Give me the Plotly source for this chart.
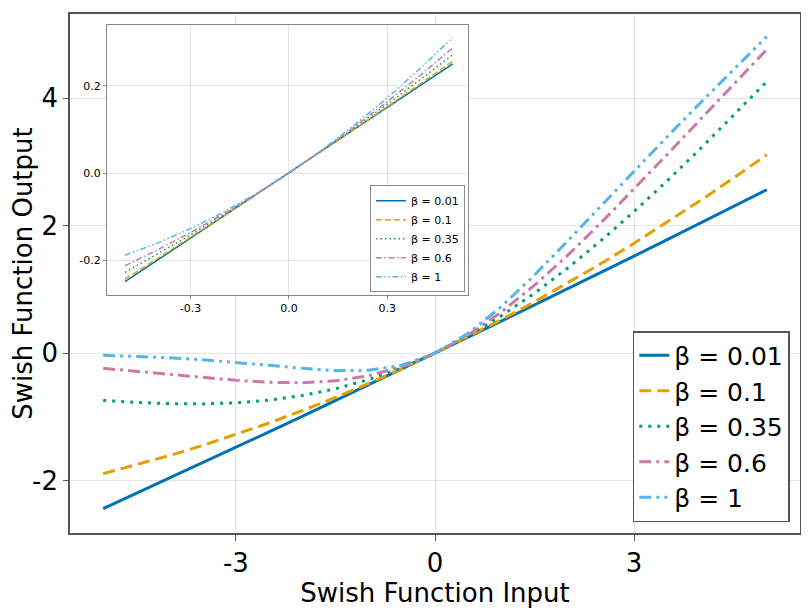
import plotly.graph_objects as go

# main panel: x from -5 to 5
x_main = [-5.0, -4.5, -4.0, -3.5, -3.0, -2.5, -2.0, -1.5, -1.0, -0.5, 0.0,
          0.5, 1.0, 1.5, 2.0, 2.5, 3.0, 3.5, 4.0, 4.5, 5.0]
betas = ["0.01", "0.1", "0.35", "0.6", "1"]
y_main = {
    "0.01": [-2.438, -2.199, -1.960, -1.719, -1.478, -1.234, -0.990, -0.744, -0.498, -0.249, 0.0,
             0.251, 0.503, 0.756, 1.010, 1.266, 1.523, 1.781, 2.040, 2.301, 2.563],
    "0.1": [-1.888, -1.752, -1.605, -1.447, -1.277, -1.095, -0.900, -0.694, -0.475, -0.244, 0.0,
            0.256, 0.525, 0.806, 1.100, 1.405, 1.723, 2.053, 2.395, 2.748, 3.112],
    "0.35": [-0.740, -0.772, -0.791, -0.795, -0.778, -0.736, -0.664, -0.558, -0.413, -0.228, 0.0,
             0.272, 0.587, 0.942, 1.336, 1.764, 2.222, 2.705, 3.209, 3.728, 4.260],
    "0.6": [-0.237, -0.283, -0.333, -0.382, -0.426, -0.456, -0.463, -0.434, -0.354, -0.213, 0.0,
            0.287, 0.646, 1.066, 1.537, 2.044, 2.574, 3.118, 3.667, 4.217, 4.763],
    "1": [-0.033, -0.049, -0.072, -0.103, -0.142, -0.190, -0.238, -0.274, -0.269, -0.189, 0.0,
          0.311, 0.731, 1.226, 1.762, 2.310, 2.858, 3.397, 3.928, 4.451, 4.967],
}

# inset: zoom on -0.5 .. 0.5
x_inset = [-0.5, -0.4, -0.3, -0.2, -0.1, 0.0, 0.1, 0.2, 0.3, 0.4, 0.5]
y_inset = {
    "0.01": [-0.2494, -0.1996, -0.1498, -0.0999, -0.0500, 0.0, 0.0500, 0.1001, 0.1502, 0.2004, 0.2506],
    "0.1": [-0.2438, -0.1960, -0.1478, -0.0990, -0.0498, 0.0, 0.0503, 0.1010, 0.1523, 0.2040, 0.2563],
    "0.35": [-0.2282, -0.1860, -0.1421, -0.0965, -0.0491, 0.0, 0.0509, 0.1035, 0.1579, 0.2140, 0.2718],
    "0.6": [-0.2128, -0.1761, -0.1365, -0.0940, -0.0485, 0.0, 0.0515, 0.1060, 0.1635, 0.2239, 0.2872],
    "1": [-0.1888, -0.1605, -0.1277, -0.0900, -0.0475, 0.0, 0.0525, 0.1100, 0.1723, 0.2395, 0.3112],
}

colors = ["#0072B2", "#E69F00", "#009E73", "#CC79A7", "#56B4E9"]
dashes = ["solid", "12px,6px", "3px,6px", "12px,5px,3px,5px", "12px,5px,3px,5px,3px,5px"]
dashes_small = ["solid", "6px,3px", "1.5px,3px", "6px,2.5px,1.5px,2.5px", "6px,2.5px,1.5px,2.5px,1.5px,2.5px"]

fig = go.Figure()
for b, c, d in zip(betas, colors, dashes):
    fig.add_trace(go.Scatter(x=x_main, y=y_main[b], mode="lines",
                             line=dict(color=c, width=3, dash=d),
                             name=f"β = {b}", xaxis="x", yaxis="y", legend="legend"))
for b, c, d in zip(betas, colors, dashes_small):
    fig.add_trace(go.Scatter(x=x_inset, y=y_inset[b], mode="lines",
                             line=dict(color=c, width=1.5, dash=d),
                             name=f"β = {b}", xaxis="x2", yaxis="y2", legend="legend2"))

grid = "rgba(0,0,0,0.1)"
# page body adds an 8px offset, so margins are shifted to compensate
fig.update_layout(
    width=809, height=612,
    margin=dict(l=62, r=17, t=6, b=87),
    paper_bgcolor="white", plot_bgcolor="white",
    font=dict(family="DejaVu Sans", color="black"),
    xaxis=dict(domain=[0, 1], range=[-5.5, 5.5], tickvals=[-3, 0, 3], ticktext=["-3", "0", "3"],
               showgrid=True, gridcolor=grid, zeroline=False, automargin=False,
               showline=True, linecolor="#555555", linewidth=1.5, mirror=True,
               ticks="outside", ticklen=6, tickcolor="#555555",
               tickfont=dict(size=26), title=dict(text="Swish Function Input", font=dict(size=26), standoff=6)),
    yaxis=dict(domain=[0, 1], range=[-2.82, 5.32], tickvals=[-2, 0, 2, 4], ticktext=["-2", "0", "2", "4"],
               showgrid=True, gridcolor=grid, zeroline=False, automargin=False,
               showline=True, linecolor="#555555", linewidth=1.5, mirror=True,
               ticks="outside", ticklen=5, tickcolor="#555555",
               tickfont=dict(size=26), title=dict(text="Swish Function Output", font=dict(size=26), standoff=9)),
    xaxis2=dict(domain=[0.0507, 0.545], anchor="y2", range=[-0.555, 0.546],
                tickvals=[-0.3, 0.0, 0.3], ticktext=["-0.3", "0.0", "0.3"],
                showgrid=True, gridcolor=grid, zeroline=False, automargin=False,
                showline=True, linecolor="#888888", linewidth=1, mirror=True,
                ticks="outside", ticklen=3, tickcolor="#888888", tickfont=dict(size=11)),
    yaxis2=dict(domain=[0.4586, 0.979], anchor="x2", range=[-0.28, 0.34],
                tickvals=[-0.2, 0.0, 0.2], ticktext=["-0.2", "0.0", "0.2"],
                showgrid=True, gridcolor=grid, zeroline=False, automargin=False,
                showline=True, linecolor="#888888", linewidth=1, mirror=True,
                ticks="outside", ticklen=3, tickcolor="#888888", tickfont=dict(size=11)),
    legend=dict(x=0.986, y=0.021, xanchor="right", yanchor="bottom",
                bgcolor="white", bordercolor="#555555", borderwidth=1.5,
                font=dict(size=25), itemwidth=30, tracegroupgap=0),
    legend2=dict(x=0.541, y=0.464, xanchor="right", yanchor="bottom",
                 bgcolor="white", bordercolor="#888888", borderwidth=1,
                 font=dict(size=11), itemwidth=30, tracegroupgap=0),
)

fig.write_html("out.html")
